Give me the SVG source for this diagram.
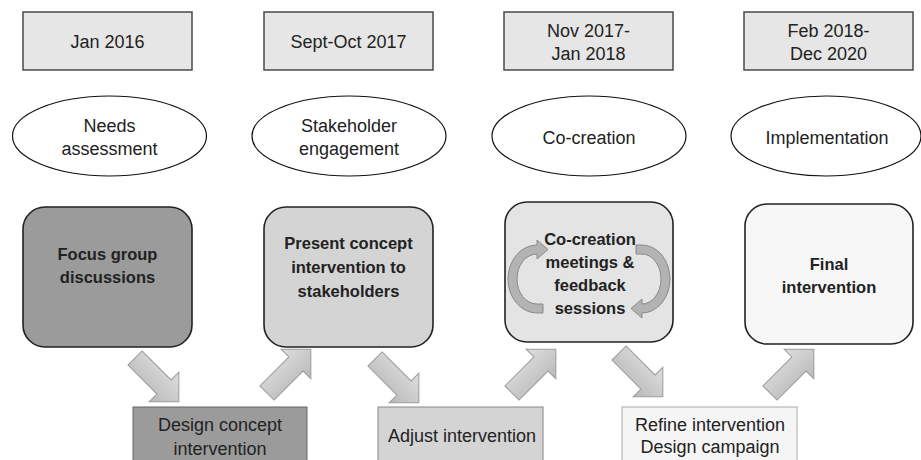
<svg xmlns="http://www.w3.org/2000/svg" xmlns:xlink="http://www.w3.org/1999/xlink" width="921" height="460" viewBox="0 0 921 460">
  <style>
    text { font-family: "Liberation Sans", Arial, sans-serif; fill: #222; text-anchor: middle; }
    .lbl { font-size: 18px; }
    .bold { font-size: 16.5px; font-weight: bold; }
    .date { fill: #e6e6e6; stroke: #4a4a4a; stroke-width: 1.5; }
    .phase { fill: #ffffff; stroke: #111; stroke-width: 1.2; }
    .step { stroke: #222; stroke-width: 1.6; }
    .cycle { fill: #b3b3b3; stroke: #8a8a8a; stroke-width: 1; }
    .blk { fill: url(#arrowFill); stroke: #9c9c9c; stroke-width: 1; }
  </style>
  <defs>
    <linearGradient id="arrowFill" x1="0" y1="0" x2="0" y2="1">
      <stop offset="0" stop-color="#dedede"/>
      <stop offset="1" stop-color="#b9b9b9"/>
    </linearGradient>
    <!-- block arrow pointing right, tail centre at the origin -->
    <path id="blockArrow" d="M0,-10 L41,-10 L41,-21 L62,0 L41,21 L41,10 L0,10 Z"/>
  </defs>

  <rect width="921" height="460" fill="#ffffff"/>

  <!-- date boxes -->
  <g id="date-jan2016">
    <rect class="date" x="23" y="12" width="169" height="58"/>
    <text class="lbl" x="107.5" y="48">Jan 2016</text>
  </g>
  <g id="date-sept2017">
    <rect class="date" x="264" y="12" width="169" height="58"/>
    <text class="lbl" x="348.5" y="48">Sept-Oct 2017</text>
  </g>
  <g id="date-nov2017">
    <rect class="date" x="504" y="12" width="169" height="58"/>
    <text class="lbl" x="588.5" y="37">Nov 2017-</text>
    <text class="lbl" x="588.5" y="60">Jan 2018</text>
  </g>
  <g id="date-feb2018">
    <rect class="date" x="744" y="12" width="169" height="58"/>
    <text class="lbl" x="828.5" y="37">Feb 2018-</text>
    <text class="lbl" x="828.5" y="60">Dec 2020</text>
  </g>

  <!-- phases -->
  <g id="phase-needs">
    <ellipse class="phase" cx="109.5" cy="136" rx="97" ry="40"/>
    <text class="lbl" x="109.5" y="132">Needs</text>
    <text class="lbl" x="109.5" y="155">assessment</text>
  </g>
  <g id="phase-stakeholder">
    <ellipse class="phase" cx="349" cy="136" rx="97" ry="40"/>
    <text class="lbl" x="349" y="132">Stakeholder</text>
    <text class="lbl" x="349" y="155">engagement</text>
  </g>
  <g id="phase-cocreation">
    <ellipse class="phase" cx="589" cy="136" rx="97" ry="40"/>
    <text class="lbl" x="589" y="144">Co-creation</text>
  </g>
  <g id="phase-implementation">
    <ellipse class="phase" cx="826" cy="136" rx="95" ry="40"/>
    <text class="lbl" x="827" y="144">Implementation</text>
  </g>

  <!-- activity boxes -->
  <g id="step-focus">
    <rect class="step" x="23" y="207" width="169" height="140" rx="22" fill="#9b9b9b"/>
    <text class="bold" x="107.5" y="260">Focus group</text>
    <text class="bold" x="107.5" y="283">discussions</text>
  </g>
  <g id="step-present">
    <rect class="step" x="264" y="207" width="169" height="140" rx="22" fill="#d4d4d4"/>
    <text class="bold" x="348.5" y="249">Present concept</text>
    <text class="bold" x="348.5" y="273">intervention to</text>
    <text class="bold" x="348.5" y="297">stakeholders</text>
  </g>
  <g id="step-meetings">
    <rect class="step" x="505" y="202" width="168" height="140" rx="22" fill="#e4e4e4"/>
    <!-- cycle arrows around the label -->
    <path class="cycle" d="M543,313 L537,313 A29,34 0 0 1 537,245 L537,240 L548,249.5 L537,259 L537,254 A20,25 0 0 0 537,304 L543,304 Z"/>
    <path class="cycle" d="M636,245 L642,245 A28,34 0 0 1 642,313 L642,318 L631,308.5 L642,299 L642,304 A19,25 0 0 0 642,254 L636,254 Z"/>
    <text class="bold" x="590" y="245">Co-creation</text>
    <text class="bold" x="590" y="268">meetings &amp;</text>
    <text class="bold" x="590" y="291">feedback</text>
    <text class="bold" x="590" y="314">sessions</text>
  </g>
  <g id="step-final">
    <rect class="step" x="745" y="204" width="168" height="140" rx="22" fill="#f7f7f7"/>
    <text class="bold" x="829" y="270">Final</text>
    <text class="bold" x="829" y="293">intervention</text>
  </g>

  <!-- intermediate work boxes -->
  <g id="work-design">
    <rect x="133" y="407" width="174" height="65" fill="#9b9b9b" stroke="#666" stroke-width="1"/>
    <text class="lbl" x="220" y="431">Design concept</text>
    <text class="lbl" x="220" y="455">intervention</text>
  </g>
  <g id="work-adjust">
    <rect x="378" y="407" width="165" height="65" fill="#d4d4d4" stroke="#888" stroke-width="1"/>
    <text class="lbl" x="462" y="442">Adjust intervention</text>
  </g>
  <g id="work-refine">
    <rect x="622" y="407" width="175" height="65" fill="#f5f5f5" stroke="#aaa" stroke-width="1"/>
    <text class="lbl" x="710" y="431">Refine intervention</text>
    <text class="lbl" x="710" y="453">Design campaign</text>
  </g>

  <!-- block arrows linking the boxes -->
  <g id="connectors">
    <use xlink:href="#blockArrow" class="blk" transform="translate(135,358) rotate(45)"/>
    <use xlink:href="#blockArrow" class="blk" transform="translate(267,393) rotate(-45)"/>
    <use xlink:href="#blockArrow" class="blk" transform="translate(375,359) rotate(45)"/>
    <use xlink:href="#blockArrow" class="blk" transform="translate(512,393) rotate(-45)"/>
    <use xlink:href="#blockArrow" class="blk" transform="translate(619,353) rotate(45)"/>
    <use xlink:href="#blockArrow" class="blk" transform="translate(770,393) rotate(-45)"/>
  </g>
</svg>
